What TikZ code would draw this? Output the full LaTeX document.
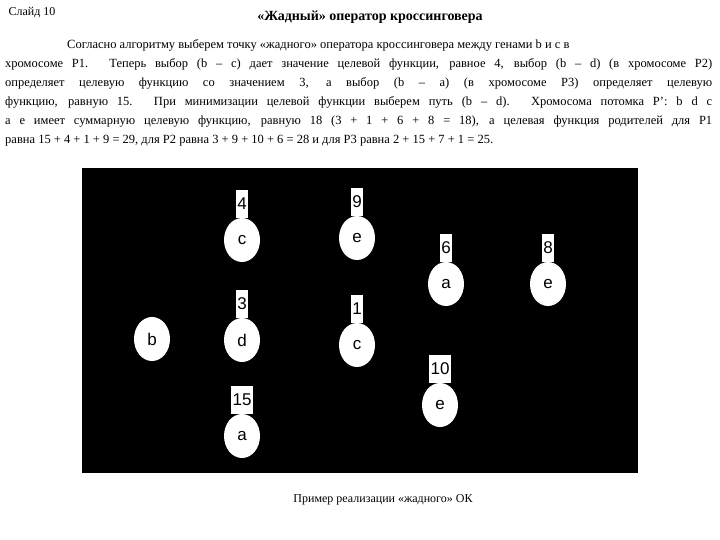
\documentclass[tikz,border=0pt]{standalone}
\usepackage{fontspec}
\usetikzlibrary{shapes.geometric}
\setmainfont{Liberation Serif}
\newfontfamily\arialf{Liberation Sans}
\begin{document}
\begin{tikzpicture}[x=1pt,y=-1pt,
  gene/.style={ellipse,fill=white,minimum width=36pt,minimum height=44pt,inner sep=0pt,font=\arialf\fontsize{17}{17}\selectfont},
  wt/.style={fill=white,inner sep=1.5pt,minimum height=28pt,font=\arialf\fontsize{17}{17}\selectfont},
  nf/.style={font=\fontsize{12}{14}\selectfont}]
\useasboundingbox (0,0) rectangle (720,540);
\node[nf,anchor=west] (slide) at (5,13) {Слайд 10};
\node[font=\bfseries\fontsize{14}{16}\selectfont] (title) at (370,17) {«Жадный» оператор кроссинговера};
\node[anchor=north west,text width=707pt,align=justify,inner sep=0pt,font=\fontsize{12.5}{19}\selectfont] (para) at (5,39) {\hspace*{62pt}Согласно алгоритму выберем точку «жадного» оператора кроссинговера между генами b и c в\newline
хромосоме P1. Теперь выбор (b – c) дает значение целевой функции, равное 4, выбор (b – d) (в хромосоме P2)\linebreak
определяет целевую функцию со значением 3, а выбор (b – a) (в хромосоме P3) определяет целевую\linebreak
функцию, равную 15. При минимизации целевой функции выберем путь (b – d). Хромосома потомка P': b d c\linebreak
a e имеет суммарную целевую функцию, равную 18 (3 + 1 + 6 + 8 = 18), а целевая функция родителей для P1\linebreak
равна 15 + 4 + 1 + 9 = 29, для P2 равна 3 + 9 + 10 + 6 = 28 и для P3 равна 2 + 15 + 7 + 1 = 25.};
\fill[black] (82,168) rectangle (638,473);
\node[gene] (c1) at (242,240) {c};
\node[wt,anchor=south] (w4) at (c1.north) {4};
\node[gene] (e1) at (357,238) {e};
\node[wt,anchor=south] (w9) at (e1.north) {9};
\node[gene] (a1) at (446,284) {a};
\node[wt,anchor=south] (w6) at (a1.north) {6};
\node[gene] (e2) at (548,284) {e};
\node[wt,anchor=south] (w8) at (e2.north) {8};
\node[gene] (b) at (152,339) {b};
\node[gene] (d) at (242,340) {d};
\node[wt,anchor=south] (w3) at (d.north) {3};
\node[gene] (c2) at (357,345) {c};
\node[wt,anchor=south] (w1) at (c2.north) {1};
\node[gene] (e3) at (440,405) {e};
\node[wt,anchor=south] (w10) at (e3.north) {10};
\node[gene] (a2) at (242,436) {a};
\node[wt,anchor=south] (w15) at (a2.north) {15};
\node[nf] (cap) at (383,500) {Пример реализации «жадного» ОК};
\end{tikzpicture}
\end{document}
